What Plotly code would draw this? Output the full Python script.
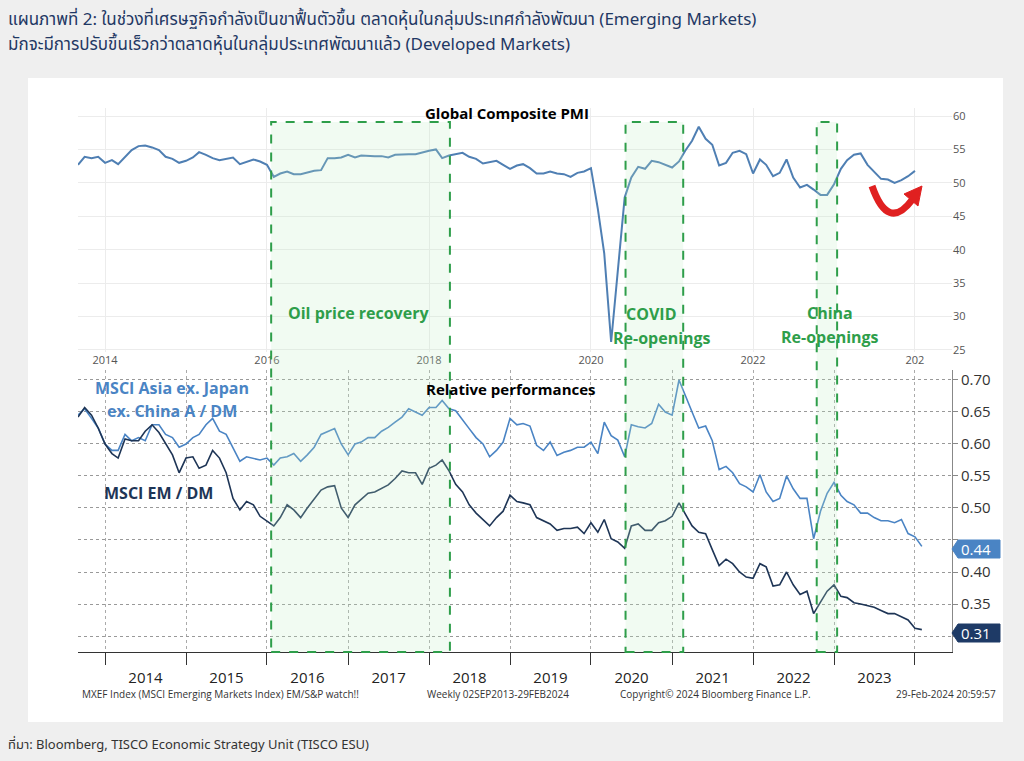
import plotly.graph_objects as go
import pandas as pd

W, H = 1024, 761
def px(x): return x / W
def py(y): return 1 - y / H

pmi_dates = pd.date_range("2013-09-01", "2024-01-01", freq="MS")
pmi = [52.7, 53.9, 53.7, 53.9,
       53.0, 53.4, 52.8, 53.9, 54.9, 55.5, 55.6, 55.3, 54.9, 53.9, 53.6, 53.0,
       53.3, 53.8, 54.6, 54.2, 53.7, 53.4, 53.6, 53.8, 52.8, 53.1, 53.5, 53.2,
       52.7, 50.9, 51.4, 51.7, 51.3, 51.3, 51.6, 51.8, 51.9, 53.7, 53.7, 53.8,
       54.2, 53.8, 54.1, 54.0, 54.0, 54.0, 53.8, 54.2, 54.3, 54.3, 54.3, 54.6,
       54.8, 55.0, 53.7, 54.1, 54.3, 54.5, 53.9, 53.6, 52.9, 53.1, 53.3, 52.7,
       52.1, 52.6, 52.8, 52.2, 51.4, 51.4, 51.7, 51.4, 51.3, 50.9, 51.5, 51.7,
       52.2, 46.1, 39.4, 26.2, 36.3, 47.8, 50.8, 52.4, 52.1, 53.3, 53.1, 52.7,
       52.3, 53.2, 54.8, 56.3, 58.4, 56.6, 55.7, 52.6, 53.0, 54.5, 54.8, 54.3,
       51.4, 53.5, 52.7, 51.0, 51.5, 53.5, 50.8, 49.3, 49.7, 49.0, 48.2, 48.2,
       49.8, 52.1, 53.4, 54.2, 54.4, 52.7, 51.6, 50.6, 50.5, 50.0, 50.4, 51.0,
       51.8]

rel_dates = pd.date_range("2013-09-01", "2024-02-01", freq="MS")
asia_dm = [0.645, 0.655, 0.64, 0.625,
           0.60, 0.59, 0.59, 0.615, 0.605, 0.61, 0.605, 0.63, 0.63, 0.615, 0.61, 0.595,
           0.60, 0.61, 0.615, 0.63, 0.64, 0.62, 0.615, 0.595, 0.573, 0.58, 0.578, 0.575,
           0.578, 0.567, 0.578, 0.58, 0.585, 0.573, 0.583, 0.595, 0.615, 0.62, 0.624, 0.60,
           0.583, 0.60, 0.603, 0.61, 0.61, 0.62, 0.626, 0.634, 0.642, 0.655, 0.65, 0.645,
           0.657, 0.657, 0.668, 0.655, 0.652, 0.637, 0.624, 0.61, 0.60, 0.58, 0.59, 0.603,
           0.64, 0.63, 0.632, 0.628, 0.598, 0.59, 0.603, 0.582, 0.587, 0.59, 0.595, 0.595,
           0.603, 0.585, 0.634, 0.613, 0.606, 0.58, 0.63, 0.627, 0.625, 0.632, 0.662, 0.65,
           0.645, 0.70, 0.675, 0.65, 0.625, 0.628, 0.605, 0.56, 0.565, 0.555, 0.538, 0.533,
           0.525, 0.552, 0.525, 0.51, 0.515, 0.55, 0.53, 0.515, 0.515, 0.452, 0.495, 0.523,
           0.54, 0.52, 0.51, 0.505, 0.492, 0.492, 0.485, 0.48, 0.48, 0.477, 0.482, 0.46,
           0.455, 0.44]
em_dm = [0.642, 0.657, 0.645, 0.625,
         0.60, 0.585, 0.578, 0.608, 0.605, 0.605, 0.62, 0.63, 0.618, 0.60, 0.583, 0.555,
         0.578, 0.58, 0.562, 0.567, 0.59, 0.578, 0.555, 0.515, 0.497, 0.51, 0.505, 0.487,
         0.48, 0.472, 0.485, 0.505, 0.497, 0.485, 0.50, 0.515, 0.528, 0.533, 0.535, 0.50,
         0.485, 0.505, 0.513, 0.523, 0.525, 0.53, 0.536, 0.546, 0.558, 0.555, 0.555, 0.537,
         0.562, 0.567, 0.575, 0.558, 0.537, 0.525, 0.505, 0.492, 0.482, 0.472, 0.485, 0.495,
         0.52, 0.51, 0.508, 0.505, 0.485, 0.48, 0.475, 0.465, 0.468, 0.468, 0.47, 0.46,
         0.477, 0.462, 0.482, 0.452, 0.447, 0.437, 0.472, 0.475, 0.465, 0.465, 0.477, 0.48,
         0.487, 0.508, 0.49, 0.472, 0.462, 0.46, 0.435, 0.41, 0.42, 0.413, 0.40, 0.392,
         0.39, 0.413, 0.408, 0.378, 0.38, 0.40, 0.38, 0.365, 0.37, 0.335, 0.353, 0.37,
         0.38, 0.362, 0.36, 0.352, 0.35, 0.347, 0.345, 0.34, 0.335, 0.335, 0.33, 0.325,
         0.312, 0.31]

pmi_ticks = [25, 30, 35, 40, 45, 50, 55, 60]
rel_ticks = [0.30, 0.35, 0.40, 0.45, 0.50, 0.55, 0.60, 0.65, 0.70]
rel_tick_text = ["", "0.35", "0.40", "", "0.50", "0.55", "0.60", "0.65", "0.70"]
top_year_vals = ["2014-01-01", "2016-01-01", "2018-01-01", "2020-01-01", "2022-01-01", "2024-01-01"]
top_year_text = ["2014", "2016", "2018", "2020", "2022", "202"]

C_PMI = "#4f7fb3"
C_ASIA = "#4a84c4"
C_EM = "#1e3556"
GREEN = "#2e9e4a"
XR = ["2013-09-01", "2024-06-16"]
FONT = "Open Sans, Noto Sans, DejaVu Sans, sans-serif"

fig = go.Figure()
fig.add_trace(go.Scatter(x=pmi_dates, y=pmi, mode="lines", line=dict(color=C_PMI, width=2),
                         xaxis="x", yaxis="y", showlegend=False))
fig.add_trace(go.Scatter(x=rel_dates, y=asia_dm, mode="lines", line=dict(color=C_ASIA, width=1.6),
                         xaxis="x2", yaxis="y2", showlegend=False))
fig.add_trace(go.Scatter(x=rel_dates, y=em_dm, mode="lines", line=dict(color=C_EM, width=1.6),
                         xaxis="x2", yaxis="y2", showlegend=False))

dom_x = [px(78), px(952)]
fig.update_layout(
    width=W, height=H, margin=dict(l=0, r=0, t=0, b=0, autoexpand=False),
    paper_bgcolor="#efefef", plot_bgcolor="rgba(0,0,0,0)",
    font=dict(family=FONT),
    xaxis=dict(domain=dom_x, anchor="y", type="date", range=XR, tickvals=top_year_vals,
               ticktext=top_year_text, showgrid=True, gridcolor="#ececec", ticks="",
               tickfont=dict(size=11, color="#555"), zeroline=False, showline=False, automargin=False),
    yaxis=dict(domain=[py(352), py(108)], range=[24.7, 61.2], side="right", anchor="x",
               tickvals=pmi_ticks, gridcolor="#ececec", tickfont=dict(size=11, color="#555"),
               zeroline=False, showline=False, ticks="", automargin=False),
    xaxis2=dict(domain=dom_x, anchor="y2", type="date", range=XR, dtick="M12",
                tick0="2014-01-01", tickformat="%Y", ticklabelmode="period",
                showgrid=True, gridcolor="#aaaaaa", griddash="dot", ticks="outside",
                ticklen=12, tickcolor="#333", showline=True, linecolor="#333",
                tickfont=dict(size=15, color="#222"), zeroline=False, automargin=False),
    yaxis2=dict(domain=[py(652), py(370)], range=[0.275, 0.7156], side="right", anchor="x2",
                tickvals=rel_ticks, ticktext=rel_tick_text, gridcolor="#999999", griddash="dot",
                showline=True, linecolor="#888", ticks="outside", ticklen=5, tickcolor="#888",
                tickfont=dict(size=15, color="#333"), zeroline=False, automargin=False),
)

shapes = [dict(type="rect", xref="paper", yref="paper", x0=px(28), x1=px(1003), y0=py(722), y1=py(78),
               fillcolor="white", line=dict(width=0), layer="below")]
for a, b in [("2016-01-20", "2018-04-05"), ("2020-06-05", "2021-02-20"), ("2022-10-15", "2023-01-15")]:
    shapes.append(dict(type="rect", xref="x", yref="paper", x0=a, x1=b, y0=py(652), y1=py(122),
                       fillcolor="rgba(190,235,195,0.22)", line=dict(color=GREEN, width=2, dash="dash"),
                       layer="above"))

def P(x, y): return f"{px(x)} {py(y)}"
shapes.append(dict(type="path", xref="paper", yref="paper",
                   path=f"M {P(872,186)} Q {P(888,232)} {P(912,200)}",
                   line=dict(color="#e02020", width=7)))
shapes.append(dict(type="path", xref="paper", yref="paper",
                   path=f"M {P(904,194)} L {P(922,186)} L {P(918,206)} Z",
                   fillcolor="#e02020", line=dict(color="#e02020", width=1)))
for yv, col in [(549, "#4a84c4"), (633, "#1e3a66")]:
    shapes.append(dict(type="path", xref="paper", yref="paper",
                       path=f"M {P(952,yv)} L {P(958,yv-9)} L {P(1000,yv-9)} L {P(1000,yv+9)} L {P(958,yv+9)} Z",
                       fillcolor=col, line=dict(color=col, width=1)))
fig.update_layout(shapes=shapes)

def ann(x, y, text, size=14, color="#000", bold=False, xanchor="center", family=FONT):
    if bold:
        text = f"<b>{text}</b>"
    fig.add_annotation(x=px(x), y=py(y), xref="paper", yref="paper", text=text, showarrow=False,
                       xanchor=xanchor, yanchor="middle", font=dict(size=size, color=color, family=family))

THAI = "Noto Sans Thai, Tahoma, Leelawadee, DejaVu Sans, Noto Sans, sans-serif"
ann(6, 20, "แผนภาพที่ 2: ในช่วงที่เศรษฐกิจกำลังเป็นขาฟื้นตัวขึ้น ตลาดหุ้นในกลุ่มประเทศกำลังพัฒนา (Emerging Markets)",
    size=17, color="#1f3864", xanchor="left", family=THAI)
ann(6, 45, "มักจะมีการปรับขึ้นเร็วกว่าตลาดหุ้นในกลุ่มประเทศพัฒนาแล้ว (Developed Markets)",
    size=17, color="#1f3864", xanchor="left", family=THAI)
ann(6, 745, "ที่มา: Bloomberg, TISCO Economic Strategy Unit (TISCO ESU)", size=13, color="#333",
    xanchor="left", family=THAI)

ann(507, 113, "Global Composite PMI", size=15, bold=True)
ann(511, 389, "Relative performances", size=15, bold=True)
ann(358, 313, "Oil price recovery", size=16, color=GREEN, bold=True)
ann(651, 314, "COVID", size=16, color=GREEN, bold=True)
ann(662, 338, "Re-openings", size=16, color=GREEN, bold=True)
ann(830, 313, "China", size=16, color=GREEN, bold=True)
ann(830, 337, "Re-openings", size=16, color=GREEN, bold=True)
ann(172, 388, "MSCI Asia ex. Japan", size=16, color=C_ASIA, bold=True)
ann(172, 411, "ex. China A / DM", size=16, color=C_ASIA, bold=True)
ann(158, 493, "MSCI EM / DM", size=16, color=C_EM, bold=True)
ann(976, 549, "0.44", size=15, color="white")
ann(976, 633, "0.31", size=15, color="white")

ann(80, 694, "MXEF Index (MSCI Emerging Markets Index) EM/S&P watch!!", size=10, color="#333", xanchor="left")
ann(425, 694, "Weekly 02SEP2013-29FEB2024", size=10, color="#333", xanchor="left")
ann(618, 694, "Copyright© 2024 Bloomberg Finance L.P.", size=10, color="#333", xanchor="left")
ann(998, 694, "29-Feb-2024 20:59:57", size=10, color="#333", xanchor="right")

fig.write_html("out.html", config={"displayModeBar": False},
               post_script="document.body.style.margin='0px';document.body.style.overflow='hidden';")
